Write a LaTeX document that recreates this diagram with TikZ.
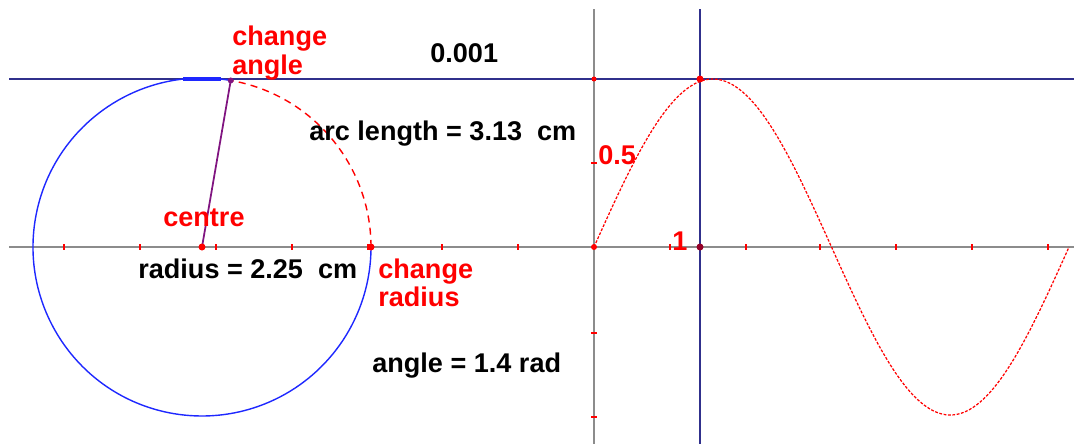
\documentclass[tikz,border=0pt]{standalone}
\usepackage{fontspec}
\setmainfont{Liberation Sans}
\definecolor{navy}{RGB}{48,48,140}
\definecolor{axgray}{RGB}{140,140,140}
\definecolor{circblue}{RGB}{30,40,255}
\definecolor{purp}{RGB}{128,20,128}
\definecolor{darkred}{RGB}{150,0,40}
\tikzset{
  lbl/.style={font=\bfseries\fontsize{15.4}{18}\selectfont, inner sep=0pt, anchor=base west, text=black},
  redlbl/.style={lbl, text=red},
  axisline/.style={draw=axgray, line width=1.1pt},
  navyline/.style={draw=navy, line width=1.3pt},
  tickmark/.style={draw=red, line width=1.2pt},
  reddot/.style={fill=red, draw=none},
}
\begin{document}
\begin{tikzpicture}[x=0.02cm,y=-0.02cm]
\useasboundingbox (0,0) rectangle (1074,444);
% named points
\coordinate (centre) at (202,247);
\coordinate (anglept) at ({202+169*cos(1.4 r)},{247-169*sin(1.4 r)});
\coordinate (radpt) at (371,247);
\coordinate (origin) at (594,247);
\coordinate (peak) at (700,247);
\coordinate (hL) at (9,79);
\coordinate (hR) at (1074,79);
\coordinate (aL) at (9,247);
\coordinate (aR) at (1074,247);
\coordinate (vT) at (594,9);
\coordinate (vB) at (594,444);
\coordinate (bT) at (700,9);
\coordinate (bB) at (700,444);
% axes
\draw[axisline] (aL) -- (aR);
\draw[axisline] (vT) -- (vB);
% horizontal ticks
\foreach \t in {64,140,216,292,368,442,518,670,746,820,896,972,1048}
  \draw[tickmark] (\t,244) -- (\t,250);
% vertical ticks
\foreach \t in {79,163,333,417}
  \draw[tickmark] (591,\t) -- (597,\t);
% navy lines
\draw[navyline] (hL) -- (hR);
\draw[navyline] (bT) -- (bB);
% circle (the part not covered by the arc)
\draw[circblue, line width=0.8pt] (anglept) arc[start angle={-deg(1.4)}, end angle=-360, radius=169];
\draw[circblue, line width=2pt] (183,79) -- (221,79);
% dashed red arc
\draw[red, line width=0.8pt, dash pattern=on 4pt off 3pt] (radpt) arc[start angle=0, end angle={-deg(1.4)}, radius=169];
% radius line
\draw[purp, line width=1pt] (centre) -- (anglept);
% sine graph
\draw[red, line width=0.7pt, dash pattern=on 1.6pt off 0.9pt] plot[domain=0:6.283, samples=120] ({594+75.6*\x},{247-168*sin(\x r)});
% dots
\fill[reddot] (centre) circle (3.5);
\fill[reddot] (radpt) circle (3.5);
\fill[purp] (anglept) circle (3);
\fill[reddot] (700,79) circle (3.5);
\fill[reddot] (origin) circle (3);
\fill[darkred] (peak) circle (3.5);
\fill[reddot] (594,79) circle (2.5);
% labels
\node[lbl] (val) at (430,62) {0.001};
\node[redlbl] (chA1) at (232,45) {change};
\node[redlbl] (chA2) at (232,74) {angle};
\node[lbl] (arc) at (309,140) {arc length = 3.13\ \ cm};
\node[redlbl] (cen) at (163,226) {centre};
\node[lbl] (rad) at (138,278) {radius = 2.25\ \ cm};
\node[redlbl] (chR1) at (378,278) {change};
\node[redlbl] (chR2) at (378,306) {radius};
\node[lbl] (ang) at (372,372) {angle = 1.4 rad};
\node[redlbl] (half) at (598,164) {0.5};
\node[redlbl] (one) at (672,250) {1};
\end{tikzpicture}
\end{document}
